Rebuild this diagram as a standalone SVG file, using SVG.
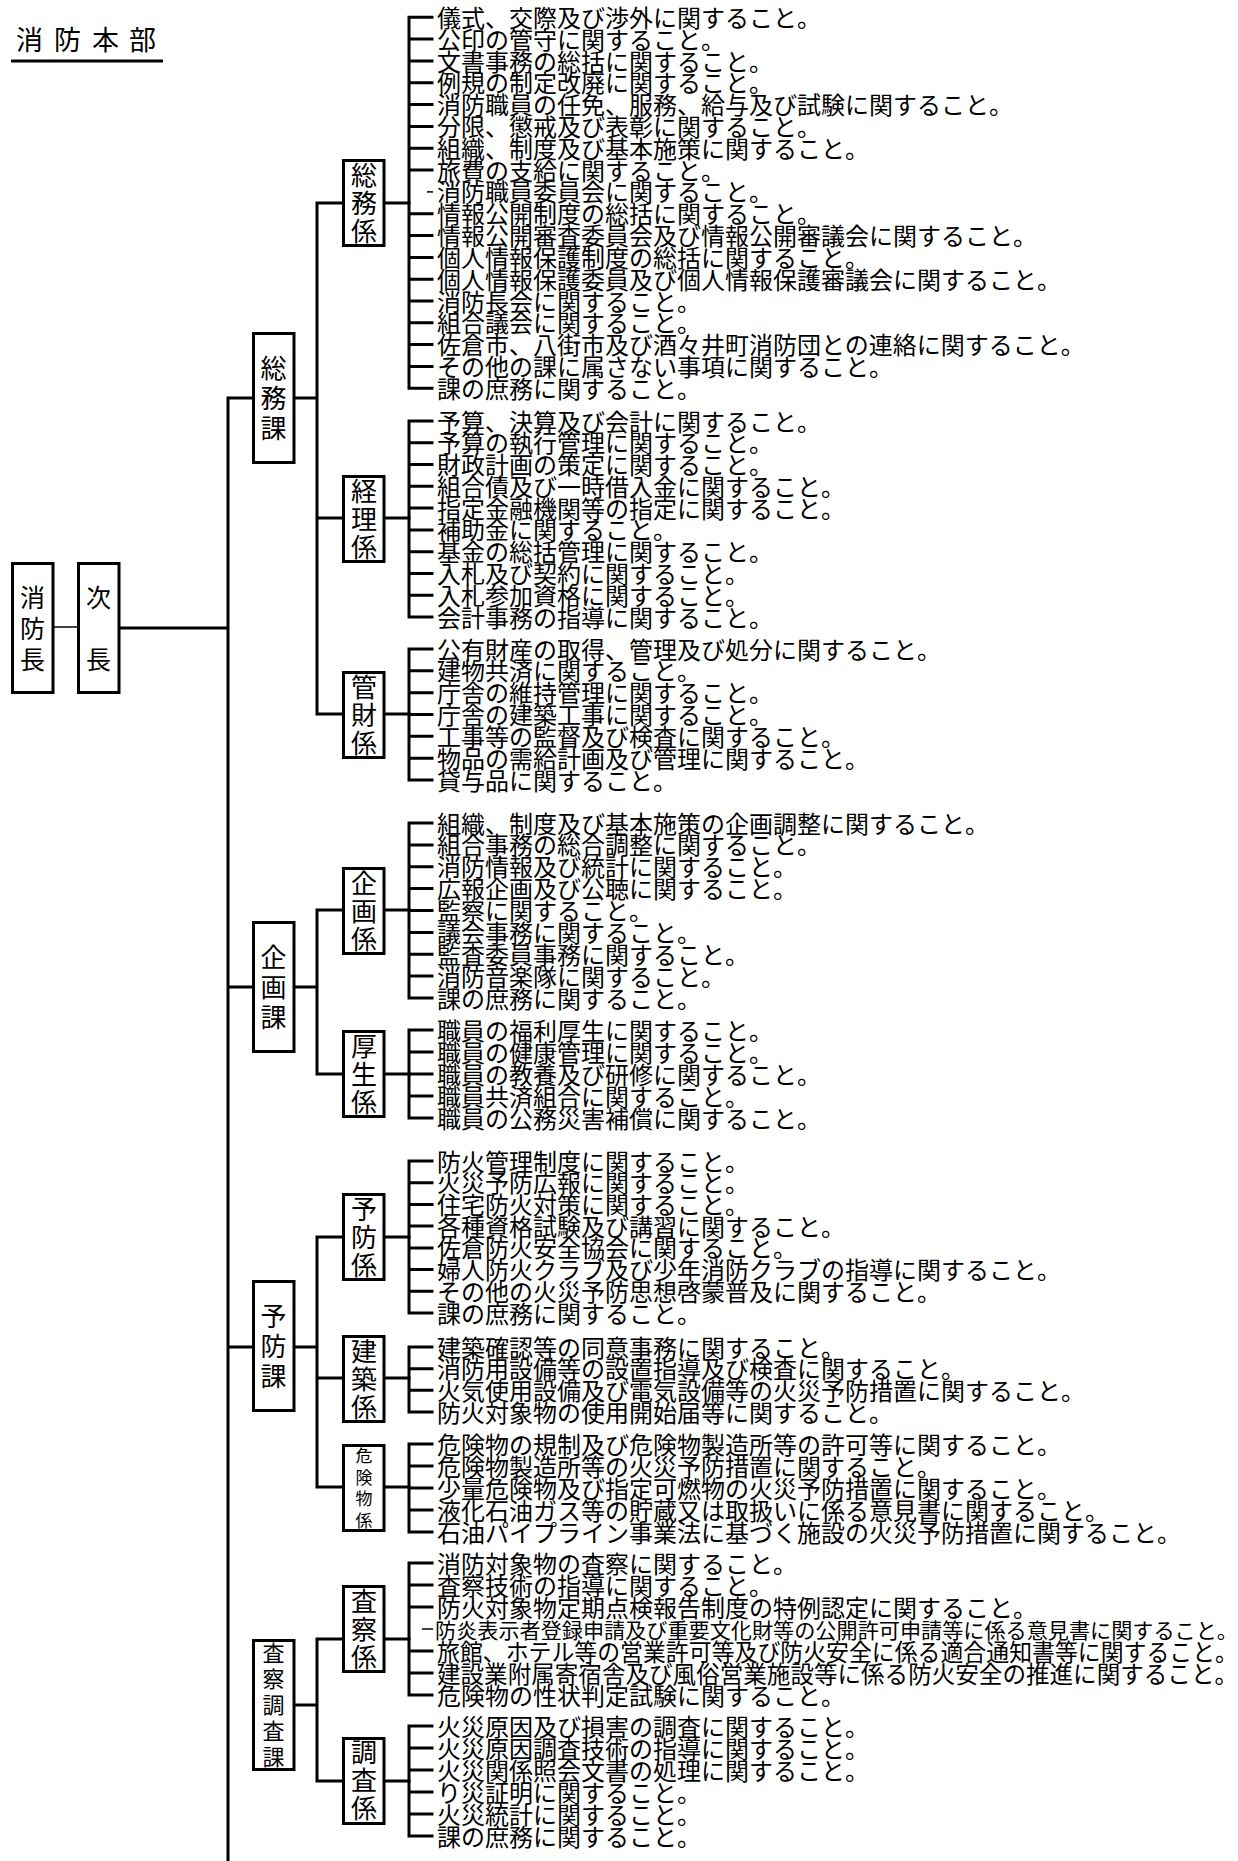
<svg xmlns="http://www.w3.org/2000/svg" width="1238" height="1861" viewBox="0 0 1238 1861">
<style>
.bx{fill:#fff;stroke:#000;stroke-width:3}
.ln{fill:none;stroke:#000;stroke-width:3;stroke-linecap:square}
.th{fill:none;stroke:#000;stroke-width:1.5}
text{font-family:"Noto Sans CJK JP","Noto Sans",sans-serif;fill:#000}
.it{font-size:24px}
.lb{font-size:26px;text-anchor:middle}
</style>
<rect width="1238" height="1861" fill="#fff"/>
<g id="title">
<text x="16 43 54 81 92 119 129" y="50" style="font-size:27px">消 防 本 部</text>
<line x1="11" y1="61" x2="163" y2="61" stroke="#000" stroke-width="3"/>
</g>
<g id="connectors">
<path class="th" d="M54 627H77"/>
<path class="ln" d="M120 628H228M228 398V1861M228 398H253M228 987H253M228 1347H253"/>
<path class="ln" d="M294 398H317M317 203V714M317 203H343M317 518H343M317 714H343"/>
<path class="ln" d="M294 987H317M317 910V1074M317 910H343M317 1074H343"/>
<path class="ln" d="M294 1347H317M317 1237V1487M317 1237H343M317 1378H343M317 1487H343"/>
<path class="ln" d="M294 1705H317M317 1639V1781M317 1639H343M317 1781H343"/>
<path class="ln" d="M384 203H409M384 518H409M384 714H409M384 910H409M384 1074H409M384 1237H409M384 1378H409M384 1487H409M384 1639H409M384 1781H409"/>
<path class="ln" d="M409 17.3V388.3M409 17.3H432M409 39.1H432M409 61H432M409 82.8H432M409 104.6H432M409 126.4H432M409 148.2H432M409 170.1H432M409 213.7H432M409 235.5H432M409 257.4H432M409 279.2H432M409 301H432M409 322.8H432M409 344.6H432M409 366.5H432M409 388.3H432"/>
<path class="th" d="M427 191.9H433"/>
<path class="ln" d="M409 421V617M409 421H432M409 442.8H432M409 464.6H432M409 486.3H432M409 508.1H432M409 529.9H432M409 551.7H432M409 573.4H432M409 595.2H432M409 617H432"/>
<path class="ln" d="M409 649V780M409 649H432M409 670.8H432M409 692.7H432M409 714.5H432M409 736.3H432M409 758.2H432M409 780H432"/>
<path class="ln" d="M409 823V998M409 823H432M409 844.9H432M409 866.8H432M409 888.6H432M409 910.5H432M409 932.4H432M409 954.3H432M409 976.1H432M409 998H432"/>
<path class="ln" d="M409 1030V1118M409 1030H432M409 1052H432M409 1074H432M409 1096H432M409 1118H432"/>
<path class="ln" d="M409 1161V1313M409 1161H432M409 1182.7H432M409 1204.4H432M409 1226.1H432M409 1247.9H432M409 1269.6H432M409 1291.3H432M409 1313H432"/>
<path class="ln" d="M409 1347V1412M409 1347H432M409 1368.7H432M409 1390.3H432M409 1412H432"/>
<path class="ln" d="M409 1444V1532M409 1444H432M409 1466H432M409 1488H432M409 1510H432M409 1532H432"/>
<path class="ln" d="M409 1563V1695M409 1563H432M409 1585H432M409 1607H432M409 1651H432M409 1673H432M409 1695H432"/>
<path class="th" d="M422 1629H433"/>
<path class="ln" d="M409 1726V1836M409 1726H432M409 1748H432M409 1770H432M409 1792H432M409 1814H432M409 1836H432"/>
</g>
<g id="shoubouchou">
<rect class="bx" x="12.5" y="563.5" width="40.5" height="129"/>
<text class="lb" style="font-size:25px" x="32.5" y="606.5">消</text>
<text class="lb" style="font-size:25px" x="32.5" y="637.5">防</text>
<text class="lb" style="font-size:25px" x="32.5" y="668.5">長</text>
</g>
<g id="jichou">
<rect class="bx" x="78.5" y="563.5" width="40.5" height="129"/>
<text class="lb" style="font-size:25px" x="98.5" y="606.5">次</text>
<text class="lb" style="font-size:25px" x="98.5" y="668.5">長</text>
</g>
<g id="soumu-ka">
<rect class="bx" x="253.5" y="333.5" width="40.5" height="129"/>
<text class="lb" x="273.5" y="377.9">総</text>
<text class="lb" x="273.5" y="407.9">務</text>
<text class="lb" x="273.5" y="437.9">課</text>
</g>
<g id="kikaku-ka">
<rect class="bx" x="253.5" y="922.5" width="40.5" height="129"/>
<text class="lb" x="273.5" y="966.9">企</text>
<text class="lb" x="273.5" y="996.9">画</text>
<text class="lb" x="273.5" y="1026.9">課</text>
</g>
<g id="yobou-ka">
<rect class="bx" x="253.5" y="1281.5" width="40.5" height="129"/>
<text class="lb" x="273.5" y="1325.9">予</text>
<text class="lb" x="273.5" y="1355.9">防</text>
<text class="lb" x="273.5" y="1385.9">課</text>
</g>
<g id="sasatsu-chousa-ka">
<rect class="bx" x="253.5" y="1640.5" width="40.5" height="129"/>
<text class="lb" style="font-size:22px" x="273.5" y="1661.4">査</text>
<text class="lb" style="font-size:22px" x="273.5" y="1687.4">察</text>
<text class="lb" style="font-size:22px" x="273.5" y="1713.4">調</text>
<text class="lb" style="font-size:22px" x="273.5" y="1739.4">査</text>
<text class="lb" style="font-size:22px" x="273.5" y="1765.4">課</text>
</g>
<g id="soumu-kakari">
<rect class="bx" x="343.5" y="160.5" width="40.5" height="85"/>
<text class="lb" x="364" y="184.9">総</text><text class="lb" x="364" y="212.9">務</text><text class="lb" x="364" y="240.9">係</text>
<g class="it">
<text x="437" y="26.8">儀式、交際及び渉外に関すること。</text>
<text x="437" y="48.6">公印の管守に関すること。</text>
<text x="437" y="70.5">文書事務の総括に関すること。</text>
<text x="437" y="92.3">例規の制定改廃に関すること。</text>
<text x="437" y="114.1">消防職員の任免、服務、給与及び試験に関すること。</text>
<text x="437" y="135.9">分限、懲戒及び表彰に関すること。</text>
<text x="437" y="157.7">組織、制度及び基本施策に関すること。</text>
<text x="437" y="179.6">旅費の支給に関すること。</text>
<text x="437" y="201.4">消防職員委員会に関すること。</text>
<text x="437" y="223.2">情報公開制度の総括に関すること。</text>
<text x="437" y="245">情報公開審査委員会及び情報公開審議会に関すること。</text>
<text x="437" y="266.9">個人情報保護制度の総括に関すること。</text>
<text x="437" y="288.7">個人情報保護委員及び個人情報保護審議会に関すること。</text>
<text x="437" y="310.5">消防長会に関すること。</text>
<text x="437" y="332.3">組合議会に関すること。</text>
<text x="437" y="354.1">佐倉市、八街市及び酒々井町消防団との連絡に関すること。</text>
<text x="437" y="376">その他の課に属さない事項に関すること。</text>
<text x="437" y="397.8">課の庶務に関すること。</text>
</g>
</g>
<g id="keiri-kakari">
<rect class="bx" x="343.5" y="476.5" width="40.5" height="85"/>
<text class="lb" x="364" y="500.9">経</text><text class="lb" x="364" y="528.9">理</text><text class="lb" x="364" y="556.9">係</text>
<g class="it">
<text x="437" y="430.5">予算、決算及び会計に関すること。</text>
<text x="437" y="452.3">予算の執行管理に関すること。</text>
<text x="437" y="474.1">財政計画の策定に関すること。</text>
<text x="437" y="495.8">組合債及び一時借入金に関すること。</text>
<text x="437" y="517.6">指定金融機関等の指定に関すること。</text>
<text x="437" y="539.4">補助金に関すること。</text>
<text x="437" y="561.2">基金の総括管理に関すること。</text>
<text x="437" y="582.9">入札及び契約に関すること。</text>
<text x="437" y="604.7">入札参加資格に関すること。</text>
<text x="437" y="626.5">会計事務の指導に関すること。</text>
</g>
</g>
<g id="kanzai-kakari">
<rect class="bx" x="343.5" y="672.5" width="40.5" height="85"/>
<text class="lb" x="364" y="696.9">管</text><text class="lb" x="364" y="724.9">財</text><text class="lb" x="364" y="752.9">係</text>
<g class="it">
<text x="437" y="658.5">公有財産の取得、管理及び処分に関すること。</text>
<text x="437" y="680.3">建物共済に関すること。</text>
<text x="437" y="702.2">庁舎の維持管理に関すること。</text>
<text x="437" y="724">庁舎の建築工事に関すること。</text>
<text x="437" y="745.8">工事等の監督及び検査に関すること。</text>
<text x="437" y="767.7">物品の需給計画及び管理に関すること。</text>
<text x="437" y="789.5">貸与品に関すること。</text>
</g>
</g>
<g id="kikaku-kakari">
<rect class="bx" x="343.5" y="868.5" width="40.5" height="85"/>
<text class="lb" x="364" y="892.9">企</text><text class="lb" x="364" y="920.9">画</text><text class="lb" x="364" y="948.9">係</text>
<g class="it">
<text x="437" y="832.5">組織、制度及び基本施策の企画調整に関すること。</text>
<text x="437" y="854.4">組合事務の総合調整に関すること。</text>
<text x="437" y="876.3">消防情報及び統計に関すること。</text>
<text x="437" y="898.1">広報企画及び公聴に関すること。</text>
<text x="437" y="920">監察に関すること。</text>
<text x="437" y="941.9">議会事務に関すること。</text>
<text x="437" y="963.8">監査委員事務に関すること。</text>
<text x="437" y="985.6">消防音楽隊に関すること。</text>
<text x="437" y="1007.5">課の庶務に関すること。</text>
</g>
</g>
<g id="kousei-kakari">
<rect class="bx" x="343.5" y="1031.5" width="40.5" height="85"/>
<text class="lb" x="364" y="1055.9">厚</text><text class="lb" x="364" y="1083.9">生</text><text class="lb" x="364" y="1111.9">係</text>
<g class="it">
<text x="437" y="1039.5">職員の福利厚生に関すること。</text>
<text x="437" y="1061.5">職員の健康管理に関すること。</text>
<text x="437" y="1083.5">職員の教養及び研修に関すること。</text>
<text x="437" y="1105.5">職員共済組合に関すること。</text>
<text x="437" y="1127.5">職員の公務災害補償に関すること。</text>
</g>
</g>
<g id="yobou-kakari">
<rect class="bx" x="343.5" y="1194.5" width="40.5" height="85"/>
<text class="lb" x="364" y="1218.9">予</text><text class="lb" x="364" y="1246.9">防</text><text class="lb" x="364" y="1274.9">係</text>
<g class="it">
<text x="437" y="1170.5">防火管理制度に関すること。</text>
<text x="437" y="1192.2">火災予防広報に関すること。</text>
<text x="437" y="1213.9">住宅防火対策に関すること。</text>
<text x="437" y="1235.6">各種資格試験及び講習に関すること。</text>
<text x="437" y="1257.4">佐倉防火安全協会に関すること。</text>
<text x="437" y="1279.1">婦人防火クラブ及び少年消防クラブの指導に関すること。</text>
<text x="437" y="1300.8">その他の火災予防思想啓蒙普及に関すること。</text>
<text x="437" y="1322.5">課の庶務に関すること。</text>
</g>
</g>
<g id="kenchiku-kakari">
<rect class="bx" x="343.5" y="1336.5" width="40.5" height="85"/>
<text class="lb" x="364" y="1360.9">建</text><text class="lb" x="364" y="1388.9">築</text><text class="lb" x="364" y="1416.9">係</text>
<g class="it">
<text x="437" y="1356.5">建築確認等の同意事務に関すること。</text>
<text x="437" y="1378.2">消防用設備等の設置指導及び検査に関すること。</text>
<text x="437" y="1399.8">火気使用設備及び電気設備等の火災予防措置に関すること。</text>
<text x="437" y="1421.5">防火対象物の使用開始届等に関すること。</text>
</g>
</g>
<g id="kikenbutsu-kakari">
<rect class="bx" x="343.5" y="1445.5" width="40.5" height="85"/>
<text class="lb" style="font-size:17px" x="364" y="1462">危</text><text class="lb" style="font-size:17px" x="364" y="1483.7">険</text><text class="lb" style="font-size:17px" x="364" y="1505.3">物</text><text class="lb" style="font-size:17px" x="364" y="1527">係</text>
<g class="it">
<text x="437" y="1453.5">危険物の規制及び危険物製造所等の許可等に関すること。</text>
<text x="437" y="1475.5">危険物製造所等の火災予防措置に関すること。</text>
<text x="437" y="1497.5">少量危険物及び指定可燃物の火災予防措置に関すること。</text>
<text x="437" y="1519.5">液化石油ガス等の貯蔵又は取扱いに係る意見書に関すること。</text>
<text x="437" y="1541.5">石油パイプライン事業法に基づく施設の火災予防措置に関すること。</text>
</g>
</g>
<g id="sasatsu-kakari">
<rect class="bx" x="343.5" y="1586.5" width="40.5" height="85"/>
<text class="lb" x="364" y="1610.9">査</text><text class="lb" x="364" y="1638.9">察</text><text class="lb" x="364" y="1666.9">係</text>
<g class="it">
<text x="437" y="1572.5">消防対象物の査察に関すること。</text>
<text x="437" y="1594.5">査察技術の指導に関すること。</text>
<text x="437" y="1616.5">防火対象物定期点検報告制度の特例認定に関すること。</text>
<text x="435" y="1638" style="font-size:21px" textLength="803" lengthAdjust="spacingAndGlyphs">防炎表示者登録申請及び重要文化財等の公開許可申請等に係る意見書に関すること。</text>
<text x="437" y="1660.5" textLength="801" lengthAdjust="spacingAndGlyphs">旅館、ホテル等の営業許可等及び防火安全に係る適合通知書等に関すること。</text>
<text x="437" y="1682.5" textLength="801" lengthAdjust="spacingAndGlyphs">建設業附属寄宿舎及び風俗営業施設等に係る防火安全の推進に関すること。</text>
<text x="437" y="1704.5">危険物の性状判定試験に関すること。</text>
</g>
</g>
<g id="chousa-kakari">
<rect class="bx" x="343.5" y="1738.5" width="40.5" height="85"/>
<text class="lb" x="364" y="1762.4">調</text><text class="lb" x="364" y="1790.4">査</text><text class="lb" x="364" y="1818.4">係</text>
<g class="it">
<text x="437" y="1735.5">火災原因及び損害の調査に関すること。</text>
<text x="437" y="1757.5">火災原因調査技術の指導に関すること。</text>
<text x="437" y="1779.5">火災関係照会文書の処理に関すること。</text>
<text x="437" y="1801.5">り災証明に関すること。</text>
<text x="437" y="1823.5">火災統計に関すること。</text>
<text x="437" y="1845.5">課の庶務に関すること。</text>
</g>
</g>
</svg>
